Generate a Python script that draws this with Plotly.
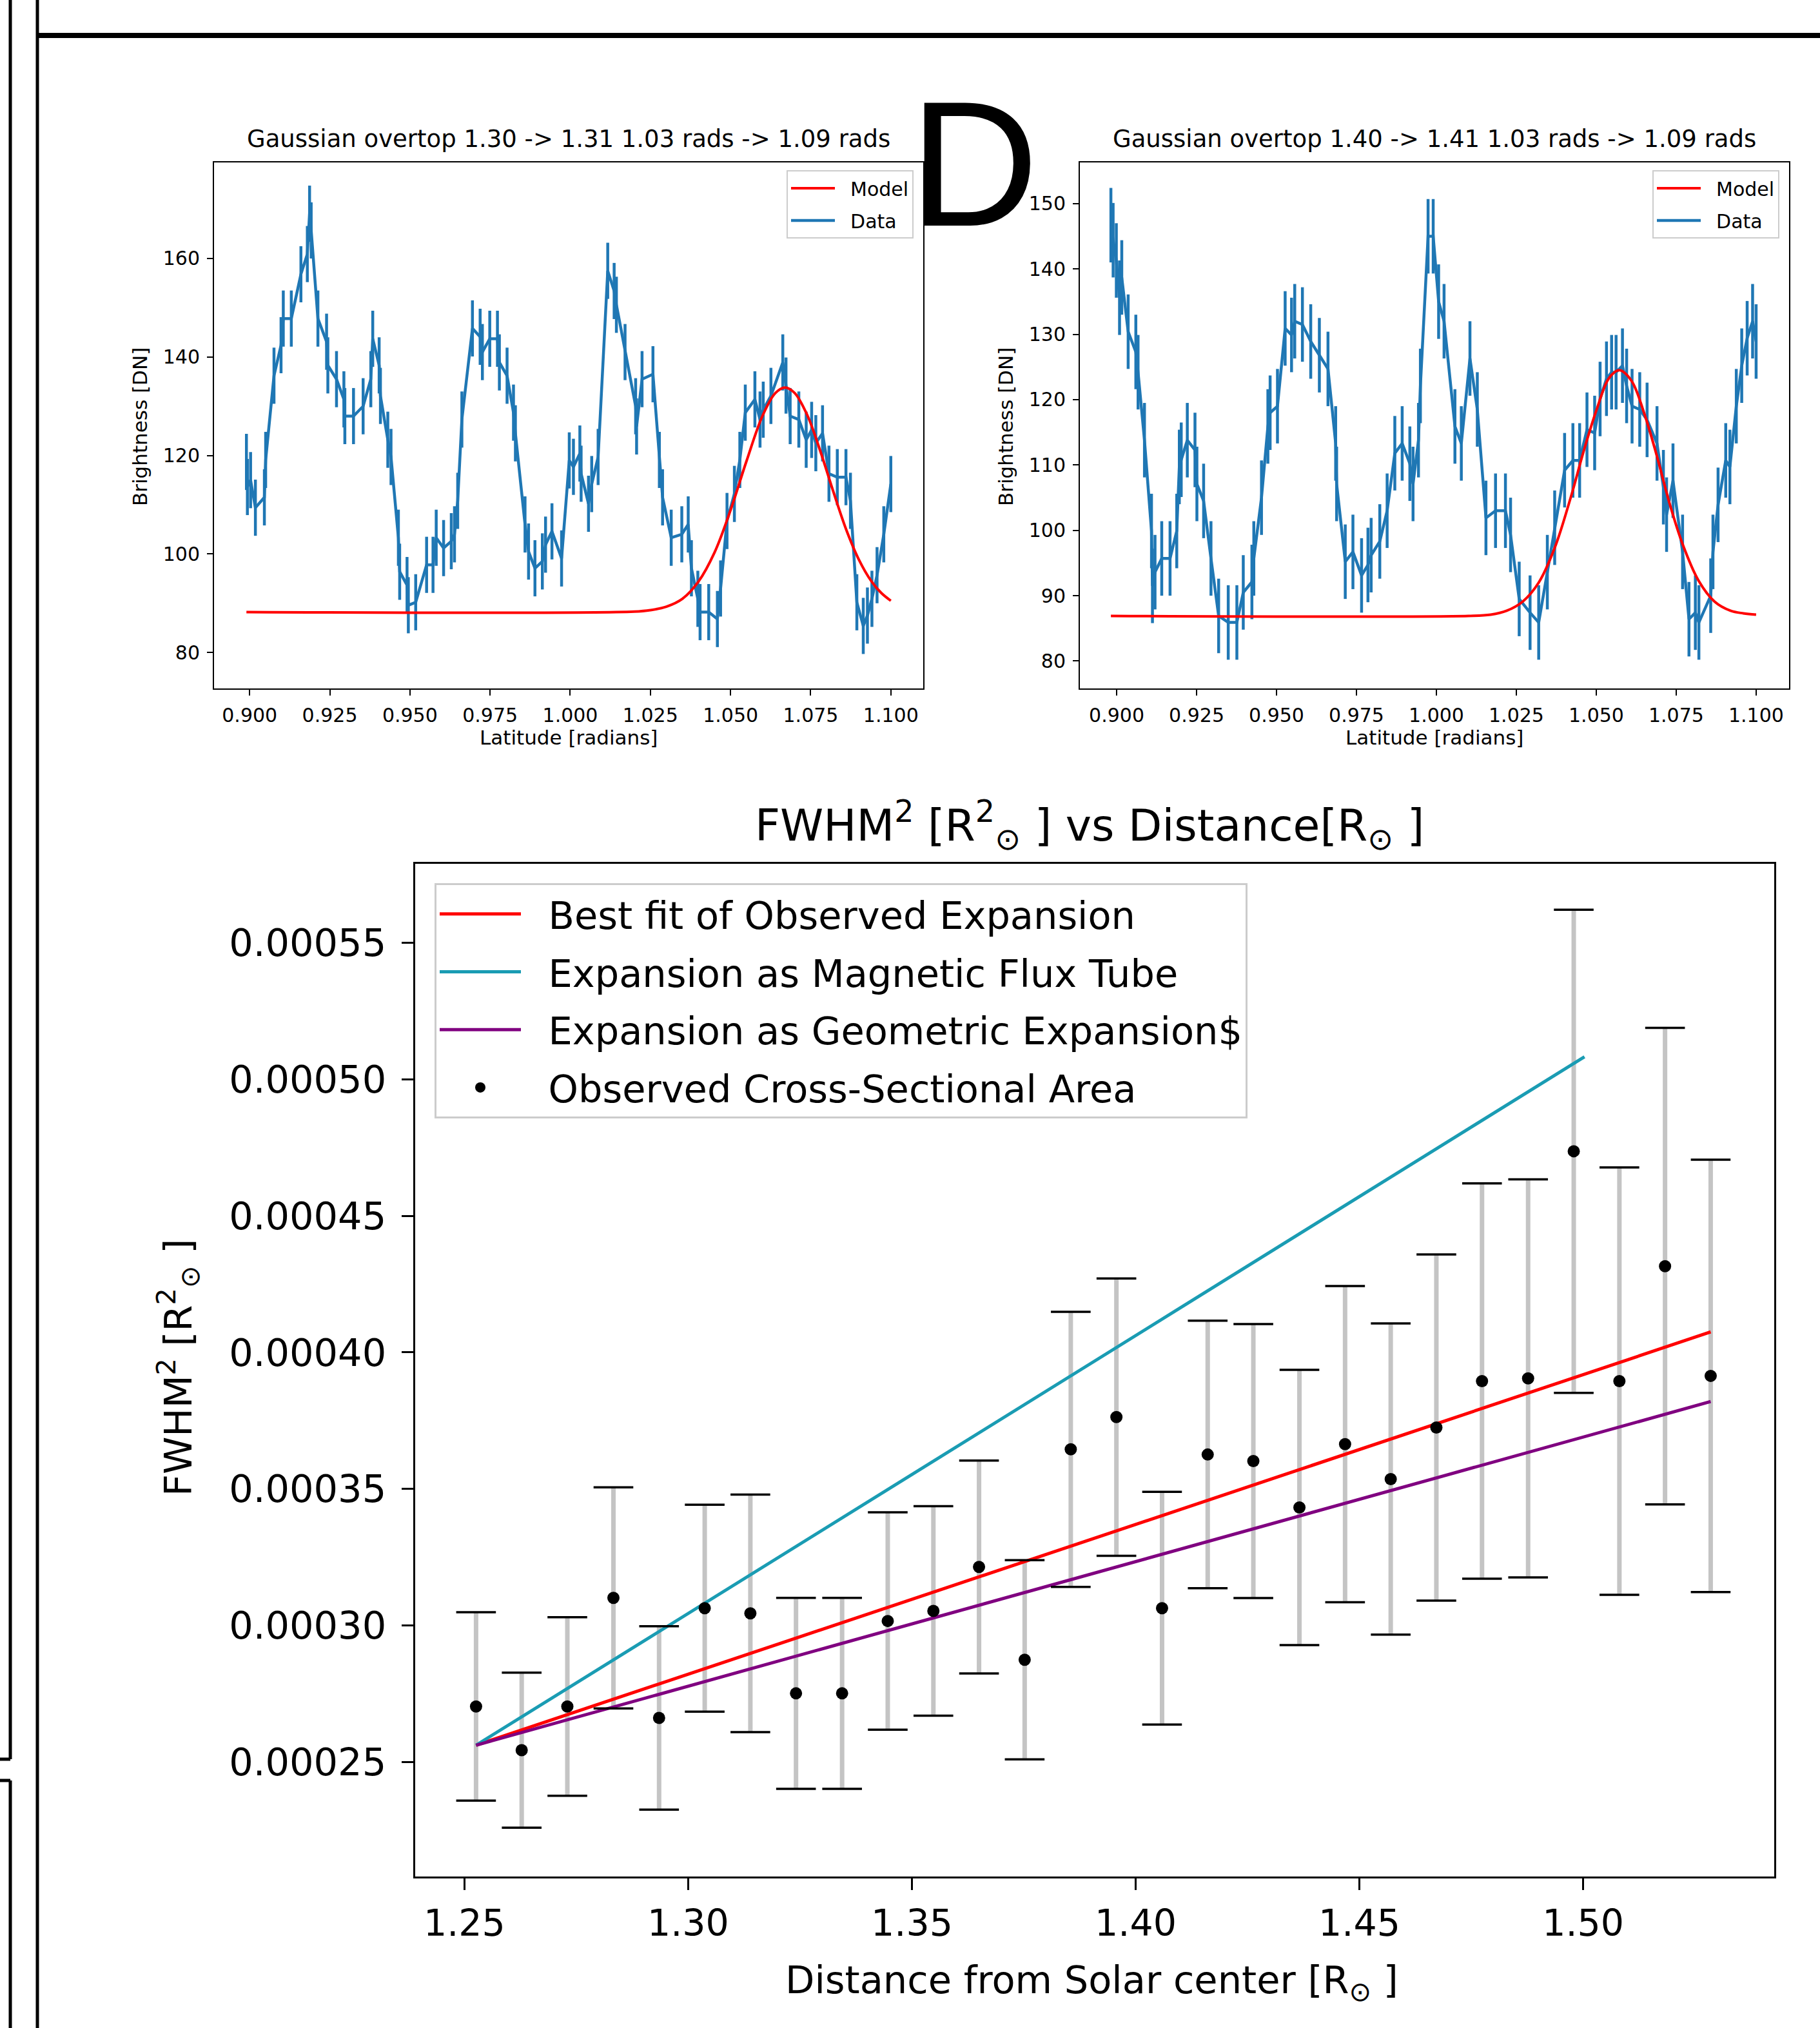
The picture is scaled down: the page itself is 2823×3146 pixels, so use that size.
import plotly.graph_objects as go

# ---------------- DATA ----------------
# Top-left panel: latitude [rad] vs brightness [DN]
TL_TITLE = "Gaussian overtop 1.30 -> 1.31 1.03 rads -> 1.09 rads"
TL_X = [0.8990, 0.8993, 0.9003, 0.9018, 0.9046, 0.9050, 0.9076, 0.9098, 0.9105, 0.9130,
        0.9160, 0.9180, 0.9187, 0.9192, 0.9213, 0.9240, 0.9244, 0.9271, 0.9294, 0.9297,
        0.9324, 0.9354, 0.9378, 0.9384, 0.9404, 0.9408, 0.9431, 0.9441, 0.9464, 0.9468,
        0.9491, 0.9495, 0.9518, 0.9552, 0.9572, 0.9582, 0.9605, 0.9629, 0.9639, 0.9649,
        0.9662, 0.9695, 0.9719, 0.9726, 0.9749, 0.9773, 0.9779, 0.9803, 0.9823, 0.9829,
        0.9859, 0.9870, 0.9890, 0.9913, 0.9923, 0.9943, 0.9973, 0.9997, 1.0010, 1.0030,
        1.0034, 1.0057, 1.0067, 1.0087, 1.0117, 1.0137, 1.0144, 1.0171, 1.0204, 1.0207,
        1.0224, 1.0258, 1.0278, 1.0288, 1.0315, 1.0348, 1.0368, 1.0378, 1.0398, 1.0405,
        1.0432, 1.0459, 1.0469, 1.0489, 1.0512, 1.0529, 1.0546, 1.0576, 1.0592, 1.0602,
        1.0626, 1.0663, 1.0673, 1.0686, 1.0713, 1.0736, 1.0753, 1.0766, 1.0787, 1.0807,
        1.0833, 1.0860, 1.0874, 1.0894, 1.0914, 1.0927, 1.0941, 1.0957, 1.0978, 1.1000]
TL_Y = [118.7, 113.6, 115.0, 109.4, 111.5, 119.1, 136.2, 142.4, 147.8, 147.8,
        156.8, 160.9, 169.1, 165.7, 147.8, 143.1, 138.3, 135.5, 131.4, 128.0,
        128.0, 130.0, 135.5, 143.7, 138.3, 132.1, 123.2, 119.7, 103.3, 96.4,
        93.7, 89.6, 90.2, 97.8, 97.8, 103.3, 101.2, 102.6, 104.0, 110.8,
        127.3, 145.8, 144.1, 141.0, 143.7, 143.7, 138.9, 136.2, 128.7, 124.5,
        106.0, 100.5, 97.1, 98.5, 101.9, 104.6, 99.1, 119.0, 117.7, 120.4,
        116.3, 110.2, 114.2, 119.7, 157.5, 153.4, 150.6, 141.0, 130.0, 125.9,
        135.5, 136.5, 119.1, 111.5, 103.3, 104.0, 106.0, 97.1, 90.9, 88.2,
        88.2, 86.8, 93.0, 106.7, 112.2, 119.1, 128.7, 131.4, 127.3, 129.3,
        132.1, 138.9, 134.2, 128.0, 127.3, 123.2, 125.2, 122.5, 124.5, 116.3,
        115.6, 115.6, 110.8, 90.2, 85.4, 87.5, 90.9, 95.7, 104.0, 114.2]
TL_MODEL_X = [0.8990, 1.020, 1.025, 1.030, 1.035, 1.040, 1.045, 1.050, 1.055, 1.060,
              1.064, 1.067, 1.070, 1.074, 1.078, 1.082, 1.086, 1.090, 1.094, 1.097, 1.100]
TL_MODEL_Y = [88.2, 88.3, 88.6, 89.3, 90.9, 94.4, 100.3, 108.9, 118.9, 128.1,
              132.7, 133.8, 132.7, 128.1, 120.9, 112.8, 105.1, 98.9, 94.4, 92.1, 90.5]
TL_XTICKS = [0.900, 0.925, 0.950, 0.975, 1.000, 1.025, 1.050, 1.075, 1.100]
TL_YTICKS = [80, 100, 120, 140, 160]

# Top-right panel
TR_TITLE = "Gaussian overtop 1.40 -> 1.41 1.03 rads -> 1.09 rads"
TR_X = [0.8982, 0.8989, 0.8999, 0.9009, 0.9016, 0.9036, 0.9060, 0.9067, 0.9087, 0.9109,
        0.9112, 0.9120, 0.9141, 0.9167, 0.9188, 0.9196, 0.9202, 0.9221, 0.9245, 0.9251,
        0.9272, 0.9295, 0.9319, 0.9349, 0.9376, 0.9396, 0.9423, 0.9429, 0.9453, 0.9473,
        0.9480, 0.9503, 0.9527, 0.9547, 0.9557, 0.9581, 0.9607, 0.9634, 0.9661, 0.9685,
        0.9688, 0.9715, 0.9739, 0.9766, 0.9786, 0.9796, 0.9823, 0.9846, 0.9870, 0.9893,
        0.9917, 0.9927, 0.9944, 0.9950, 0.9974, 0.9990, 1.0007, 1.0024, 1.0058, 1.0078,
        1.0105, 1.0128, 1.0155, 1.0185, 1.0216, 1.0232, 1.0259, 1.0293, 1.0320, 1.0347,
        1.0370, 1.0401, 1.0427, 1.0448, 1.0471, 1.0495, 1.0512, 1.0532, 1.0548, 1.0562,
        1.0582, 1.0595, 1.0612, 1.0636, 1.0659, 1.0690, 1.0710, 1.0720, 1.0740, 1.0770,
        1.0790, 1.0810, 1.0821, 1.0858, 1.0865, 1.0881, 1.0905, 1.0918, 1.0938, 1.0955,
        1.0972, 1.0989, 1.1000]
TR_Y = [146.7, 144.4, 141.3, 135.6, 138.7, 130.4, 127.3, 124.2, 113.8, 99.9,
        91.5, 93.6, 95.7, 95.7, 99.9, 109.7, 110.8, 113.8, 112.3, 107.1,
        104.5, 95.7, 86.9, 85.9, 85.9, 90.5, 92.1, 95.7, 105.0, 115.9,
        118.0, 119.0, 130.9, 129.9, 132.0, 131.5, 128.9, 126.8, 124.7, 113.3,
        107.1, 95.2, 96.7, 93.1, 94.7, 96.2, 98.3, 103.0, 111.8, 113.3,
        110.2, 107.1, 113.8, 122.1, 145.0, 145.0, 135.0, 132.0, 115.9, 113.3,
        126.3, 118.5, 101.9, 103.0, 103.0, 99.3, 89.5, 87.4, 85.9, 93.6,
        100.4, 109.2, 110.7, 110.7, 115.4, 114.9, 120.1, 123.2, 124.2, 124.2,
        125.2, 122.1, 119.0, 118.5, 116.9, 113.3, 106.6, 102.4, 107.6, 96.7,
        86.4, 87.4, 85.9, 90.0, 96.7, 103.9, 110.7, 109.7, 119.0, 125.2,
        129.4, 132.0, 128.9]
TR_MODEL_X = [0.8982, 1.010, 1.017, 1.022, 1.027, 1.032, 1.037, 1.042, 1.046, 1.050,
              1.054, 1.0572, 1.061, 1.065, 1.069, 1.073, 1.077, 1.082, 1.087, 1.092,
              1.096, 1.100]
TR_MODEL_Y = [86.9, 86.9, 87.1, 87.7, 89.1, 92.0, 97.3, 105.0, 112.0, 118.3,
              123.3, 124.5, 122.9, 117.9, 111.3, 104.0, 97.9, 92.3, 89.1, 87.7,
              87.3, 87.1]
TR_XTICKS = TL_XTICKS
TR_YTICKS = [80, 90, 100, 110, 120, 130, 140, 150]
DATA_ERR = 5.7

# Bottom panel: FWHM^2 vs distance
DIST = [1.2526, 1.2628, 1.2730, 1.2833, 1.2935, 1.3037, 1.3139, 1.3241, 1.3344, 1.3446,
        1.3548, 1.3650, 1.3752, 1.3855, 1.3957, 1.4059, 1.4161, 1.4263, 1.4366, 1.4468,
        1.4570, 1.4672, 1.4774, 1.4877, 1.4979, 1.5081, 1.5183, 1.5285]
FWHM2 = [2.703e-4, 2.543e-4, 2.703e-4, 3.101e-4, 2.661e-4, 3.063e-4, 3.044e-4, 2.751e-4,
         2.751e-4, 3.016e-4, 3.053e-4, 3.214e-4, 2.874e-4, 3.645e-4, 3.763e-4, 3.063e-4,
         3.626e-4, 3.602e-4, 3.432e-4, 3.664e-4, 3.536e-4, 3.725e-4, 3.895e-4, 3.905e-4,
         4.737e-4, 3.895e-4, 4.316e-4, 3.914e-4]
FWHM2_ERR = [3.45e-5, 2.84e-5, 3.27e-5, 4.05e-5, 3.36e-5, 3.79e-5, 4.35e-5, 3.50e-5,
             3.50e-5, 3.98e-5, 3.84e-5, 3.90e-5, 3.65e-5, 5.04e-5, 5.08e-5, 4.26e-5,
             4.90e-5, 5.02e-5, 5.04e-5, 5.79e-5, 5.70e-5, 6.34e-5, 7.24e-5, 7.29e-5,
             8.85e-5, 7.83e-5, 8.73e-5, 7.92e-5]
FIT_X = [1.2526, 1.5285]
FIT_Y = [2.561e-4, 4.075e-4]
FLUX_X = [1.2526, 1.5003]
FLUX_Y = [2.561e-4, 5.083e-4]
GEOM_X = [1.2526, 1.5285]
GEOM_Y = [2.561e-4, 3.820e-4]
B_XTICKS = [1.25, 1.30, 1.35, 1.40, 1.45, 1.50]
B_YTICKS = [0.00025, 0.00030, 0.00035, 0.00040, 0.00045, 0.00050, 0.00055]
LEGEND_NAMES = ["Best fit of Observed Expansion", "Expansion as Magnetic Flux Tube",
                "Expansion as Geometric Expansion$", "Observed Cross-Sectional Area"]
TOP_LEGEND_NAMES = ["Model", "Data"]

# ---------------- STYLE ----------------
W, H = 2823, 3146
FONT = "DejaVu Sans"
BLUE = "#1f77b4"
RED = "#ff0000"
CYAN = "#1a9cb3"
PURPLE = "#800080"
PAD = "\u00a0\u00a0"


def px(x):
    return x / W


def py(y):
    return 1 - y / H


fig = go.Figure()

# top-left
fig.add_trace(go.Scatter(x=TL_X, y=TL_Y, mode="lines", name=PAD + TOP_LEGEND_NAMES[1],
                         line=dict(color=BLUE, width=4.5),
                         error_y=dict(type="constant", value=DATA_ERR, color=BLUE, thickness=4.5, width=0),
                         xaxis="x", yaxis="y", legend="legend", legendrank=2, legendgroup="tl2"))
fig.add_trace(go.Scatter(x=TL_MODEL_X, y=TL_MODEL_Y, mode="lines", name=PAD + TOP_LEGEND_NAMES[0],
                         line=dict(color=RED, width=4, shape="spline"),
                         xaxis="x", yaxis="y", legend="legend", legendrank=1, legendgroup="tl1"))
# top-right
fig.add_trace(go.Scatter(x=TR_X, y=TR_Y, mode="lines", name=PAD + TOP_LEGEND_NAMES[1],
                         line=dict(color=BLUE, width=4.5),
                         error_y=dict(type="constant", value=DATA_ERR, color=BLUE, thickness=4.5, width=0),
                         xaxis="x2", yaxis="y2", legend="legend2", legendrank=2, legendgroup="tr2"))
fig.add_trace(go.Scatter(x=TR_MODEL_X, y=TR_MODEL_Y, mode="lines", name=PAD + TOP_LEGEND_NAMES[0],
                         line=dict(color=RED, width=4, shape="spline"),
                         xaxis="x2", yaxis="y2", legend="legend2", legendrank=1, legendgroup="tr1"))

# bottom: grey error bars
fig.add_trace(go.Scatter(x=DIST, y=FWHM2, mode="markers", marker=dict(size=1, opacity=0),
                         error_y=dict(type="data", array=FWHM2_ERR, color="#c4c4c4", thickness=7, width=0),
                         showlegend=False, xaxis="x3", yaxis="y3", hoverinfo="skip"))
fig.add_trace(go.Scatter(x=FIT_X, y=FIT_Y, mode="lines", name=PAD + LEGEND_NAMES[0],
                         line=dict(color=RED, width=5), xaxis="x3", yaxis="y3",
                         legend="legend3", legendrank=1, legendgroup="a"))
fig.add_trace(go.Scatter(x=FLUX_X, y=FLUX_Y, mode="lines", name=PAD + LEGEND_NAMES[1],
                         line=dict(color=CYAN, width=5), xaxis="x3", yaxis="y3",
                         legend="legend3", legendrank=2, legendgroup="b"))
fig.add_trace(go.Scatter(x=GEOM_X, y=GEOM_Y, mode="lines", name=PAD + LEGEND_NAMES[2],
                         line=dict(color=PURPLE, width=5), xaxis="x3", yaxis="y3",
                         legend="legend3", legendrank=3, legendgroup="c"))
# caps
cap_y = [v + e for v, e in zip(FWHM2, FWHM2_ERR)] + [v - e for v, e in zip(FWHM2, FWHM2_ERR)]
fig.add_trace(go.Scatter(x=DIST + DIST, y=cap_y, mode="markers",
                         marker=dict(symbol="line-ew", size=44, line=dict(width=3.5, color="black")),
                         showlegend=False, xaxis="x3", yaxis="y3", hoverinfo="skip"))
fig.add_trace(go.Scatter(x=DIST, y=FWHM2, mode="markers", name=PAD + LEGEND_NAMES[3],
                         marker=dict(color="black", size=19),
                         xaxis="x3", yaxis="y3", legend="legend3", legendrank=4, legendgroup="d"))


def ax(size, ticklen, tickw, linew, standoff):
    return dict(showline=True, mirror=True, linecolor="black", linewidth=linew,
                ticks="outside", ticklen=ticklen, tickwidth=tickw, tickcolor="black",
                showgrid=False, zeroline=False, ticklabelstandoff=standoff,
                tickfont=dict(family=FONT, size=size, color="black"))


top_y_dom = [py(1068), py(252)]
layout = dict(
    width=W, height=H, autosize=False,
    margin=dict(l=0, r=0, t=0, b=0),
    paper_bgcolor="white", plot_bgcolor="white",
    showlegend=True,
    xaxis=dict(ax(30, 9, 2, 2, 5), domain=[px(332), px(1432)], range=[0.8889, 1.1101],
               tickvals=TL_XTICKS, ticktext=[f"{v:.3f}" for v in TL_XTICKS], anchor="y"),
    yaxis=dict(ax(30, 9, 2, 2, 5), domain=top_y_dom, range=[72.7, 179.5],
               tickvals=TL_YTICKS, anchor="x"),
    xaxis2=dict(ax(30, 9, 2, 2, 5), domain=[px(1675), px(2775)], range=[0.8885, 1.1103],
                tickvals=TR_XTICKS, ticktext=[f"{v:.3f}" for v in TR_XTICKS], anchor="y2"),
    yaxis2=dict(ax(30, 9, 2, 2, 5), domain=top_y_dom, range=[75.8, 156.3],
                tickvals=TR_YTICKS, anchor="x2"),
    xaxis3=dict(ax(57, 18, 3, 3, 3), domain=[px(644), px(2752)], range=[1.2390, 1.5427],
                tickvals=B_XTICKS, ticktext=[f"{v:.2f}" for v in B_XTICKS], anchor="y3"),
    yaxis3=dict(ax(59, 18, 3, 3, 12), domain=[py(2911), py(1340)], range=[0.000208, 0.000579],
                tickvals=B_YTICKS, ticktext=[f"{v:.5f}" for v in B_YTICKS], anchor="x3"),
    legend=dict(x=px(1417), y=py(264), xanchor="right", yanchor="top",
                font=dict(family=FONT, size=30, color="black"),
                bgcolor="rgba(255,255,255,0.85)", bordercolor="#cccccc", borderwidth=2,
                itemwidth=68, tracegroupgap=8),
    legend2=dict(x=px(2760), y=py(264), xanchor="right", yanchor="top",
                 font=dict(family=FONT, size=30, color="black"),
                 bgcolor="rgba(255,255,255,0.85)", bordercolor="#cccccc", borderwidth=2,
                 itemwidth=68, tracegroupgap=8),
    legend3=dict(x=px(674), y=py(1370), xanchor="left", yanchor="top",
                 font=dict(family=FONT, size=59, color="black"),
                 bgcolor="rgba(255,255,255,0.85)", bordercolor="#cccccc", borderwidth=3,
                 itemwidth=126, tracegroupgap=10),
)
fig.update_layout(**layout)

ann = [
    dict(text=TL_TITLE, x=px(882), y=py(216), size=37),
    dict(text=TR_TITLE, x=px(2225), y=py(216), size=37),
    dict(text="Latitude [radians]", x=px(882), y=py(1144), size=31),
    dict(text="Latitude [radians]", x=px(2225), y=py(1144), size=31),
    dict(text="Brightness [DN]", x=px(217), y=py(662), size=31, angle=-90),
    dict(text="Brightness [DN]", x=px(1560), y=py(662), size=31, angle=-90),
    dict(text="FWHM<sup>2</sup> [R<sup>2</sup><sub>⊙</sub> ] vs Distance[R<sub>⊙</sub> ]",
         x=px(1690), y=py(1280), size=68),
    dict(text="Distance from Solar center [R<sub>⊙</sub> ]", x=px(1694), y=py(3075), size=59),
    dict(text="FWHM<sup>2</sup> [R<sup>2</sup><sub>⊙</sub> ]", x=px(276), y=py(2122), size=59, angle=-90),
]
for a in ann:
    fig.add_annotation(text=a["text"], x=a["x"], y=a["y"], xref="paper", yref="paper",
                       xanchor="center", yanchor="middle", showarrow=False,
                       textangle=a.get("angle", 0),
                       font=dict(family=FONT, size=a["size"], color="black"))
fig.add_annotation(text="D", x=px(1511), y=py(254), xref="paper", yref="paper",
                   xanchor="center", yanchor="middle", showarrow=False,
                   font=dict(family="Liberation Sans", size=277, color="black"))

# page frame lines
shapes = [
    dict(x0=px(16), x1=px(16), y0=py(0), y1=py(2729), w=5),
    dict(x0=px(0), x1=px(16), y0=py(2729), y1=py(2729), w=5),
    dict(x0=px(0), x1=px(16), y0=py(2762), y1=py(2762), w=5),
    dict(x0=px(16), x1=px(16), y0=py(2762), y1=py(H), w=5),
    dict(x0=px(58), x1=px(58), y0=py(0), y1=py(H), w=5),
    dict(x0=px(58), x1=px(W), y0=py(55), y1=py(55), w=8),
]
for s in shapes:
    fig.add_shape(type="line", xref="paper", yref="paper", x0=s["x0"], x1=s["x1"],
                  y0=s["y0"], y1=s["y1"], line=dict(color="black", width=s["w"]))

fig.write_html("out.html", config={"displayModeBar": False},
               post_script="document.body.style.margin='0';document.body.style.overflow='hidden';")
